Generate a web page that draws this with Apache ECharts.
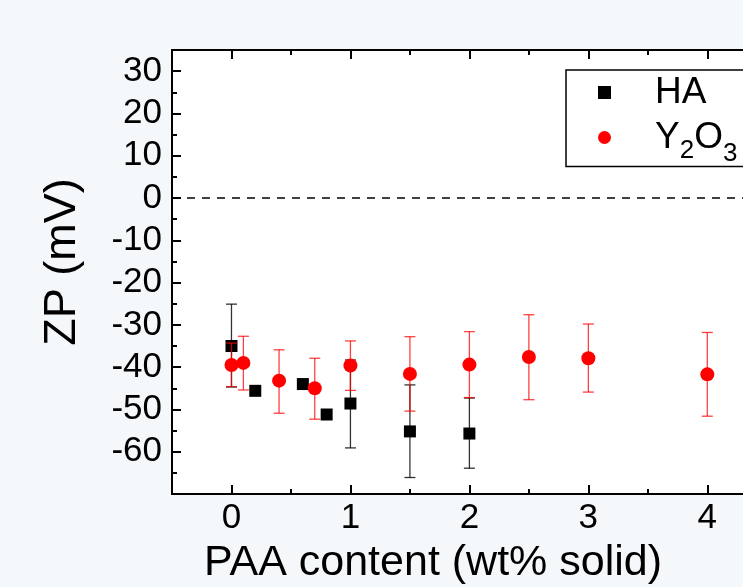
<!DOCTYPE html>
<html>
<head>
<meta charset="utf-8">
<script src="https://cdn.jsdelivr.net/npm/echarts@6/dist/echarts.min.js"></script>
<style>
html,body{margin:0;padding:0;background:#f5f8fa;}
#chart{width:743px;height:587px;}
</style>
</head>
<body>
<div id="chart"></div>
<script>
// ---- data ----
const haX = [0, 0.2, 0.6, 0.8, 1, 1.5, 2];
const haY = [-35, -45.6, -44, -51.2, -48.6, -55.2, -55.7];
const haErrX = [0, 1, 1.5, 2];
const haErrLow = [-44.7, -59.1, -66.1, -63.9];
const haErrHigh = [-25.1, -38.3, -44.2, -47.3];

const yoX = [0, 0.1, 0.4, 0.7, 1, 1.5, 2, 2.5, 3, 4];
const yoY = [-39.5, -39, -43.2, -45, -39.6, -41.6, -39.4, -37.6, -37.9, -41.7];
const yoLow = [-44.6, -45.4, -50.9, -52.3, -45.5, -50.4, -47.2, -47.7, -45.9, -51.6];
const yoHigh = [-34.3, -32.7, -35.9, -37.9, -33.8, -32.8, -31.6, -27.6, -29.8, -31.8];

const xTickLabels = [0, 1, 2, 3, 4];
const xMinorTicks = [0.5, 1.5, 2.5, 3.5];
const yTickLabels = [-60, -50, -40, -30, -20, -10, 0, 10, 20, 30];
const yMinorTicks = [-65, -55, -45, -35, -25, -15, -5, 5, 15, 25];
const seriesNames = ['HA', 'Y2O3'];
const xTitle = 'PAA content (wt% solid)';
const yTitle = 'ZP (mV)';

// ---- chart ----
const FONT = 'Liberation Sans, Arial, sans-serif';
const chart = echarts.init(document.getElementById('chart'));

function errItem(color) {
  return function (params, api) {
    const x = api.value(0);
    const lo = api.coord([x, api.value(1)]);
    const hi = api.coord([x, api.value(2)]);
    const hw = 5.5;
    const st = { stroke: color, lineWidth: 1.3 };
    return {
      type: 'group',
      children: [
        { type: 'line', shape: { x1: lo[0], y1: lo[1], x2: hi[0], y2: hi[1] }, style: st },
        { type: 'line', shape: { x1: lo[0] - hw, y1: lo[1], x2: lo[0] + hw, y2: lo[1] }, style: st },
        { type: 'line', shape: { x1: hi[0] - hw, y1: hi[1], x2: hi[0] + hw, y2: hi[1] }, style: st }
      ]
    };
  };
}

// the reference picture is cropped at the right: x axis visible up to ~4.3
const xRange = { min: -0.5, max: 4.3 };
const yRange = { min: -70, max: 35 };

const baseX = {
  type: 'value', min: xRange.min, max: xRange.max, gridIndex: 0,
  splitLine: { show: false }, axisLabel: { show: false },
  axisLine: { show: true, onZero: false, lineStyle: { color: '#000', width: 2 } }
};
const baseY = {
  type: 'value', min: yRange.min, max: yRange.max, gridIndex: 0,
  splitLine: { show: false }, axisLabel: { show: false },
  axisLine: { show: true, onZero: false, lineStyle: { color: '#000', width: 2 } }
};

const option = {
  backgroundColor: '#f5f8fa',
  animation: false,
  grid: { left: 172, top: 50, right: 0, height: 444, show: true, backgroundColor: '#ffffff', borderWidth: 0 },
  xAxis: [
    Object.assign({}, baseX, {
      position: 'bottom',
      axisTick: { show: true, inside: true, length: 9, customValues: xTickLabels, lineStyle: { color: '#000', width: 2 } },
      axisLabel: { show: true, customValues: xTickLabels, fontSize: 35, color: '#000', fontFamily: FONT, margin: 7 }
    }),
    Object.assign({}, baseX, {
      position: 'bottom',
      axisTick: { show: true, inside: true, length: 5, customValues: xMinorTicks, lineStyle: { color: '#000', width: 2 } }
    }),
    Object.assign({}, baseX, {
      position: 'top',
      axisTick: { show: true, inside: true, length: 9, customValues: xTickLabels, lineStyle: { color: '#000', width: 2 } }
    }),
    Object.assign({}, baseX, {
      position: 'top',
      axisTick: { show: true, inside: true, length: 5, customValues: xMinorTicks, lineStyle: { color: '#000', width: 2 } }
    })
  ],
  yAxis: [
    Object.assign({}, baseY, {
      position: 'left',
      axisTick: { show: true, inside: true, length: 9, customValues: yTickLabels, lineStyle: { color: '#000', width: 2 } },
      axisLabel: { show: true, customValues: yTickLabels, fontSize: 35, color: '#000', fontFamily: FONT, margin: 10 }
    }),
    Object.assign({}, baseY, {
      position: 'left',
      axisTick: { show: true, inside: true, length: 5, customValues: yMinorTicks, lineStyle: { color: '#000', width: 2 } }
    })
  ],
  legend: {
    data: seriesNames,
    orient: 'vertical',
    left: 566, top: 70,
    padding: [4, 60, 0, 32],
    itemGap: 8,
    itemWidth: 13, itemHeight: 13,
    borderColor: '#000', borderWidth: 1.5,
    backgroundColor: '#fff',
    formatter: function (name) {
      if (name === 'Y2O3') return '{g| }{n|Y}{s2|2}{n|O}{s3|3}';
      return '{g| }{n|' + name + '}';
    },
    textStyle: {
      rich: {
        g: { width: 39, fontSize: 10, lineHeight: 40 },
        n: { fontSize: 37, lineHeight: 40, color: '#000', fontFamily: FONT },
        s2: { fontSize: 26, height: 14, lineHeight: 14, verticalAlign: 'bottom', color: '#000', fontFamily: FONT },
        s3: { fontSize: 26, height: 8, lineHeight: 8, verticalAlign: 'bottom', color: '#000', fontFamily: FONT }
      }
    }
  },
  graphic: [
    { type: 'text', x: 433, y: 563, style: { text: xTitle, font: '43px ' + FONT, fill: '#000', textAlign: 'center', textVerticalAlign: 'middle' } },
    { type: 'text', x: 63, y: 262, rotation: Math.PI / 2, style: { text: yTitle, font: '45px ' + FONT, fill: '#000', textAlign: 'center', textVerticalAlign: 'middle' } }
  ],
  series: [
    {
      name: 'zeroLine', type: 'line', data: [], xAxisIndex: 0, yAxisIndex: 0,
      markLine: {
        silent: true, symbol: 'none', label: { show: false },
        lineStyle: { color: '#000', type: [8, 7], width: 1.5 },
        data: [{ yAxis: 0 }]
      }
    },
    {
      name: 'HA err', type: 'custom', xAxisIndex: 0, yAxisIndex: 0,
      renderItem: errItem('rgba(0,0,0,0.8)'),
      encode: { x: 0, y: [1, 2] },
      data: haErrX.map((x, i) => [x, haErrLow[i], haErrHigh[i]]),
      z: 2
    },
    {
      name: 'HA', type: 'scatter', xAxisIndex: 0, yAxisIndex: 0,
      symbol: 'rect', symbolSize: 12,
      itemStyle: { color: '#000', opacity: 1 },
      data: haX.map((x, i) => [x, haY[i]]),
      z: 3
    },
    {
      name: 'Y2O3 err', type: 'custom', xAxisIndex: 0, yAxisIndex: 0,
      renderItem: errItem('rgba(255,0,0,0.75)'),
      encode: { x: 0, y: [1, 2] },
      data: yoX.map((x, i) => [x, yoLow[i], yoHigh[i]]),
      z: 4
    },
    {
      name: 'Y2O3', type: 'scatter', xAxisIndex: 0, yAxisIndex: 0,
      symbol: 'circle', symbolSize: 14,
      itemStyle: { color: '#ff0000', opacity: 1 },
      data: yoX.map((x, i) => [x, yoY[i]]),
      z: 5
    }
  ]
};
chart.setOption(option);
</script>
</body>
</html>
